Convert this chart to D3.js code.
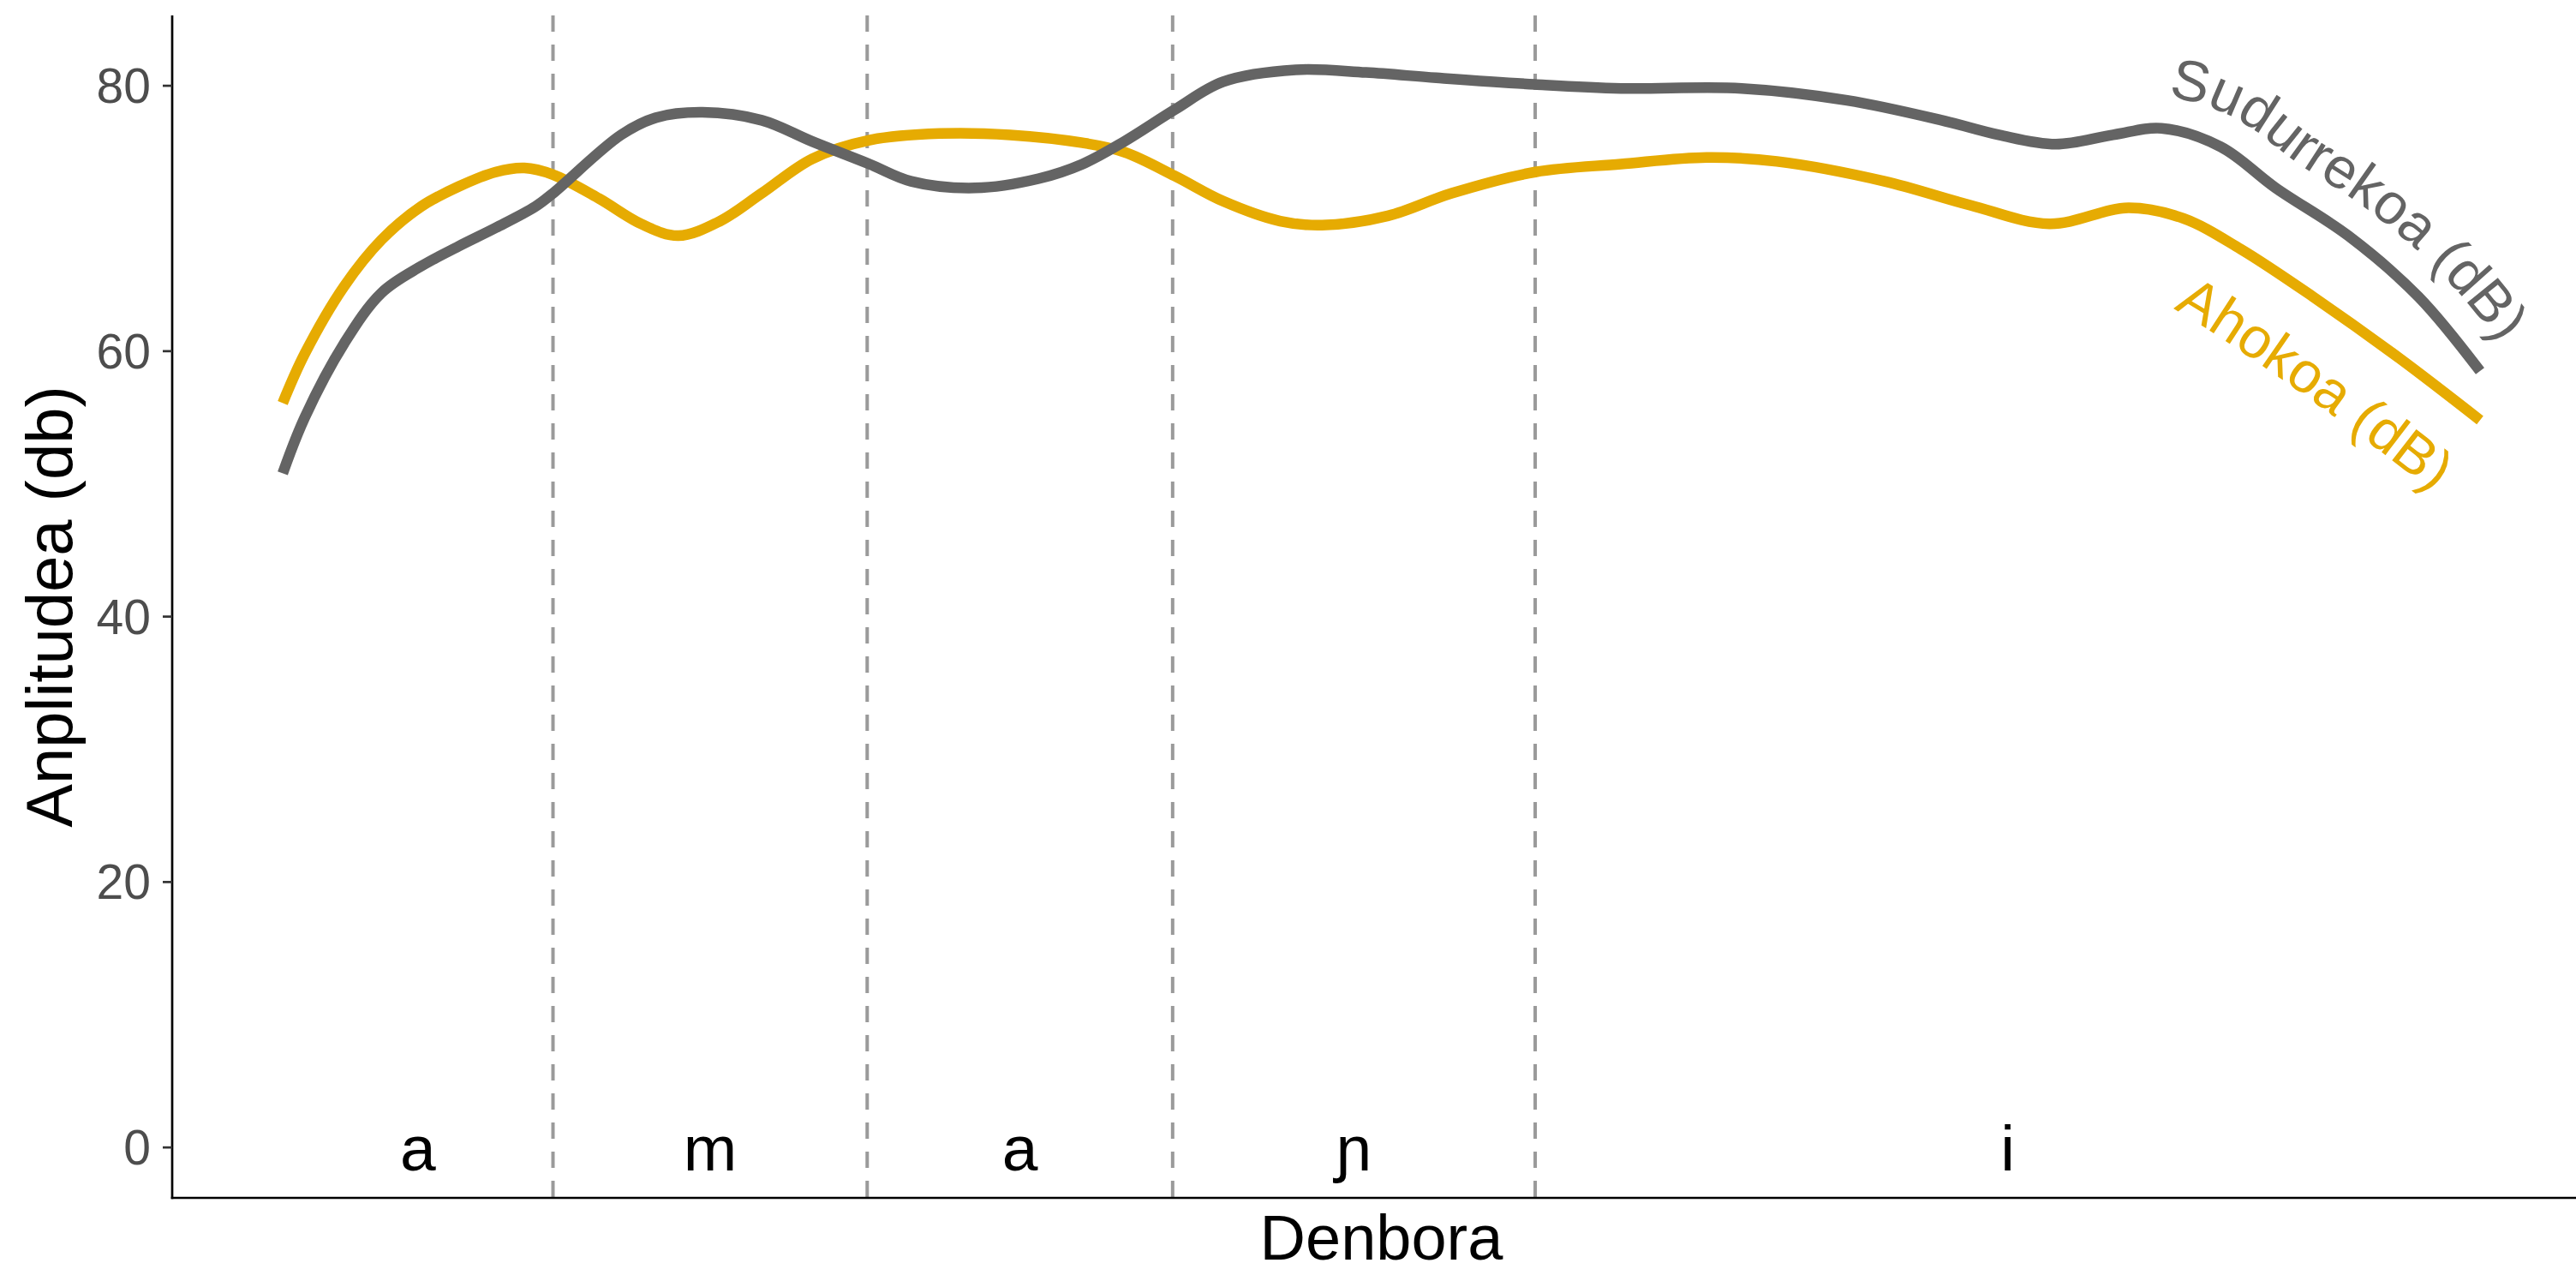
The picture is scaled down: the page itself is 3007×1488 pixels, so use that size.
<!DOCTYPE html>
<html>
<head>
<meta charset="utf-8">
<script src="https://cdn.jsdelivr.net/npm/d3@7"></script>
<style>
  html, body { margin: 0; padding: 0; background: #ffffff; }
  svg { display: block; }
  text { font-family: "Liberation Sans", Arial, Helvetica, sans-serif; }
</style>
</head>
<body>
<svg id="chart" width="3007" height="1488"></svg>
<script>
// ---------- data ----------
const timeSudurrekoa = [0, 1, 2.8, 4.5, 6.3, 8, 9.7, 11.5, 12.3, 15.4, 17, 19.1, 21.8, 24.1, 26.7, 28.6, 31.5, 34.4, 36.4, 38.3, 40.6, 42.8, 46.1, 49.3, 52.5, 57, 60.9, 66.4, 71.2, 75.5, 78.1, 80.7, 83.3, 85.5, 88.2, 90.7, 94, 97.2, 100];
const sudurrekoa = [50.8, 55.0, 60.6, 64.4, 66.4, 67.9, 69.3, 70.9, 71.9, 76.3, 77.6, 78.0, 77.4, 75.8, 74.1, 72.8, 72.3, 73.0, 74.1, 75.8, 78.2, 80.3, 81.2, 81.0, 80.6, 80.1, 79.8, 79.8, 78.9, 77.4, 76.3, 75.6, 76.3, 76.8, 75.4, 72.3, 68.7, 64.1, 58.5];

const timeAhokoa = [0, 1, 2.8, 4.5, 6.3, 8, 9.7, 11, 12.3, 14.4, 16.3, 18, 19.9, 21.8, 24.1, 26.7, 29.9, 33.1, 36.4, 38.3, 40.6, 42.8, 45.4, 47.3, 50.3, 53.2, 57, 60.9, 64.8, 68, 72.9, 76.8, 80.4, 84, 86.5, 89.1, 92.4, 96.3, 100];
const ahokoa = [56.1, 59.8, 64.9, 68.4, 70.9, 72.4, 73.5, 73.8, 73.3, 71.5, 69.6, 68.7, 69.8, 71.9, 74.5, 75.9, 76.4, 76.3, 75.7, 75.0, 73.2, 71.3, 69.8, 69.5, 70.2, 71.9, 73.5, 74.1, 74.6, 74.3, 72.8, 71.0, 69.6, 70.8, 70.0, 67.7, 64.1, 59.5, 54.8];

const segmentBounds = [0, 12.3, 26.6, 40.5, 57.0, 100];
const segmentLabels = ["a", "m", "a", "\u0272", "i"];
const yTickValues = [0, 20, 40, 60, 80];
const seriesNames = ["Sudurrekoa (dB)", "Ahokoa (dB)"];

// ---------- layout ----------
const svg = d3.select("#chart");
const panel = { left: 201, right: 3007, top: 18, bottom: 1398 };
const x = d3.scaleLinear().domain([-5.03, 105.03]).range([201, 3024]);
const y = d3.scaleLinear().domain([-3.8, 85.3]).range([panel.bottom, panel.top]);

const colSud = "#646464";
const colAho = "#E6AB02";

// dashed segment boundaries
svg.append("g").selectAll("line")
  .data(segmentBounds.slice(1, -1))
  .join("line")
  .attr("x1", d => x(d)).attr("x2", d => x(d))
  .attr("y1", panel.top).attr("y2", panel.bottom)
  .attr("stroke", "#9a9a9a")
  .attr("stroke-width", 4)
  .attr("stroke-dasharray", "19,15");

// segment labels at y = 0
svg.append("g").selectAll("text")
  .data(segmentLabels)
  .join("text")
  .attr("x", (d, i) => x((segmentBounds[i] + segmentBounds[i + 1]) / 2))
  .attr("y", y(0) + 27)
  .attr("text-anchor", "middle")
  .attr("font-size", 75)
  .attr("fill", "#000")
  .text(d => d);

// lines
const line = d3.line()
  .x(d => x(d[0]))
  .y(d => y(d[1]))
  .curve(d3.curveCatmullRom.alpha(0.5));

const dataSud = timeSudurrekoa.map((t, i) => [t, sudurrekoa[i]]);
const dataAho = timeAhokoa.map((t, i) => [t, ahokoa[i]]);

const pathAho = svg.append("path")
  .attr("d", line(dataAho))
  .attr("fill", "none").attr("stroke", colAho)
  .attr("stroke-width", 12.5);
const pathSud = svg.append("path")
  .attr("d", line(dataSud))
  .attr("fill", "none").attr("stroke", colSud)
  .attr("stroke-width", 12.5);

// offset path for curved labels
function offsetPath(pathNode, dist, side, fromLen, extend) {
  const L = pathNode.getTotalLength();
  const pts = [];
  const step = 6;
  for (let s = fromLen; s <= L; s += step) {
    const a = pathNode.getPointAtLength(Math.max(0, s - 20));
    const b = pathNode.getPointAtLength(Math.min(L, s + 20));
    const p = pathNode.getPointAtLength(s);
    let dx = b.x - a.x, dy = b.y - a.y;
    const n = Math.hypot(dx, dy) || 1;
    dx /= n; dy /= n;
    const nx = side === "above" ? dy : -dy;
    const ny = side === "above" ? -dx : dx;
    pts.push([p.x + nx * dist, p.y + ny * dist]);
  }
  // smooth
  const sm = pts.map((p, i) => {
    let sx = 0, sy = 0, c = 0;
    for (let k = -4; k <= 4; k++) {
      const q = pts[Math.min(pts.length - 1, Math.max(0, i + k))];
      sx += q[0]; sy += q[1]; c++;
    }
    return [sx / c, sy / c];
  });
  // extend straight beyond the end
  const p1 = sm[sm.length - 1], p0 = sm[sm.length - 6];
  const ex = p1[0] - p0[0], ey = p1[1] - p0[1], en = Math.hypot(ex, ey) || 1;
  sm.push([p1[0] + ex / en * extend, p1[1] + ey / en * extend]);
  return d3.line().curve(d3.curveBasis)(sm);
}

const defs = svg.append("defs");
const sudNode = pathSud.node();
const ahoNode = pathAho.node();
const sudLen = sudNode.getTotalLength();
const ahoLen = ahoNode.getTotalLength();

defs.append("path").attr("id", "lblSud")
  .attr("d", offsetPath(sudNode, 38, "above", sudLen - 1000, 0));
defs.append("path").attr("id", "lblAho")
  .attr("d", offsetPath(ahoNode, 100, "below", ahoLen - 1000, 20));

svg.append("text")
  .attr("font-size", 67).attr("fill", colSud)
  .append("textPath")
  .attr("href", "#lblSud")
  .attr("startOffset", "100%")
  .attr("text-anchor", "end")
  .text(seriesNames[0]);

svg.append("text")
  .attr("font-size", 67).attr("fill", colAho)
  .append("textPath")
  .attr("href", "#lblAho")
  .attr("startOffset", "100%")
  .attr("text-anchor", "end")
  .text(seriesNames[1]);

// axes
svg.append("line")
  .attr("x1", panel.left).attr("x2", panel.left)
  .attr("y1", panel.top).attr("y2", panel.bottom + 1.3)
  .attr("stroke", "#000").attr("stroke-width", 2.7);
svg.append("line")
  .attr("x1", panel.left - 1.3).attr("x2", panel.right)
  .attr("y1", panel.bottom).attr("y2", panel.bottom)
  .attr("stroke", "#000").attr("stroke-width", 2.7);

const yAxis = svg.append("g");
yAxis.selectAll("line")
  .data(yTickValues)
  .join("line")
  .attr("x1", panel.left - 11).attr("x2", panel.left)
  .attr("y1", d => y(d)).attr("y2", d => y(d))
  .attr("stroke", "#333").attr("stroke-width", 2.7);
yAxis.selectAll("text")
  .data(yTickValues)
  .join("text")
  .attr("x", 176)
  .attr("y", d => y(d) + 20)
  .attr("text-anchor", "end")
  .attr("font-size", 57)
  .attr("fill", "#4D4D4D")
  .text(d => d);

// axis titles
svg.append("text")
  .attr("x", (201 + 3024) / 2)
  .attr("y", 1470)
  .attr("text-anchor", "middle")
  .attr("font-size", 74)
  .attr("fill", "#000")
  .text("Denbora");

svg.append("text")
  .attr("transform", `translate(84, ${(panel.top + panel.bottom) / 2}) rotate(-90)`)
  .attr("text-anchor", "middle")
  .attr("font-size", 76)
  .attr("fill", "#000")
  .text("Anplitudea (db)");
</script>
</body>
</html>
